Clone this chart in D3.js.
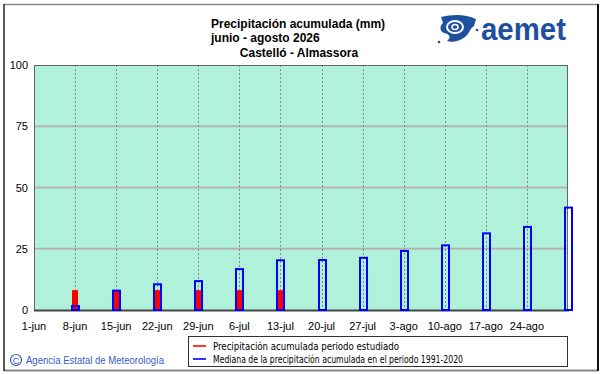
<!DOCTYPE html>
<html>
<head>
<meta charset="utf-8">
<script src="https://cdn.jsdelivr.net/npm/d3@7"></script>
<style>
  body { margin: 0; background: #fff; }
  svg { display: block; font-family: "Liberation Sans", Arial, sans-serif; }
</style>
</head>
<body>
<div id="chart"></div>
<script>
// Data
const tickDates = ["2026-06-01","2026-06-08","2026-06-15","2026-06-22","2026-06-29","2026-07-06",
  "2026-07-13","2026-07-20","2026-07-27","2026-08-03","2026-08-10","2026-08-17","2026-08-24"];
const tickLabels = ["1-jun","8-jun","15-jun","22-jun","29-jun","6-jul","13-jul","20-jul","27-jul",
  "3-ago","10-ago","17-ago","24-ago"];
const barDates = ["2026-06-08","2026-06-15","2026-06-22","2026-06-29","2026-07-06","2026-07-13",
  "2026-07-20","2026-07-27","2026-08-03","2026-08-10","2026-08-17","2026-08-24","2026-08-31"];
const median = [1.6, 7.9, 10.5, 11.8, 16.7, 20.3, 20.4, 21.3, 24.1, 26.4, 31.3, 33.9, 41.8];
const observed = [8.1, 8.1, 8.1, 8.1, 8.1, 8.1, null, null, null, null, null, null, null];
const yTicks = [0, 25, 50, 75, 100];
const legendItems = [
  { label: "Precipitación acumulada periodo estudiado", color: "#ff0000" },
  { label: "Mediana de la precipitación acumulada en el periodo 1991-2020", color: "#0000ff" }
];

const W = 601, H = 374;
const plot = { left: 34, right: 568, top: 65, bottom: 310 };
const parse = d3.utcParse("%Y-%m-%d");

const svg = d3.select("#chart").append("svg")
  .attr("width", W).attr("height", H);

// stippled mint background
const defs = svg.append("defs");
const pat = defs.append("pattern")
  .attr("id", "stip").attr("width", 4).attr("height", 4)
  .attr("patternUnits", "userSpaceOnUse");
const stipCols = ["#a8f0da","#c6f9e4","#9aeace","#b8f4da",
                  "#c2f7e4","#9eecd0","#b2f2dc","#a6eed6",
                  "#a0ecd8","#bcf6de","#aaf0d2","#c8fae8",
                  "#b4f3dc","#a6eed4","#c4f8e2","#9ceace"];
stipCols.forEach((c, i) => {
  pat.append("rect").attr("x", i % 4).attr("y", Math.floor(i / 4))
    .attr("width", 1).attr("height", 1).attr("fill", c);
});

// outer frame
svg.append("line").attr("x1", 4).attr("x2", 598).attr("y1", 4.5).attr("y2", 4.5)
  .attr("stroke", "#888").attr("stroke-width", 1.5);
svg.append("line").attr("x1", 4).attr("x2", 598).attr("y1", 370.5).attr("y2", 370.5)
  .attr("stroke", "#888").attr("stroke-width", 2);
svg.append("line").attr("x1", 4).attr("x2", 4).attr("y1", 4).attr("y2", 371)
  .attr("stroke", "#222").attr("stroke-width", 1.5);
svg.append("line").attr("x1", 598).attr("x2", 598).attr("y1", 4).attr("y2", 371)
  .attr("stroke", "#111").attr("stroke-width", 2);

// Scales
const x = d3.scaleUtc()
  .domain([parse("2026-06-01"), parse("2026-08-31")])
  .range([plot.left, plot.right]);
const y = d3.scaleLinear().domain([0, 100]).range([plot.bottom, plot.top]);

svg.append("rect")
  .attr("x", plot.left).attr("y", plot.top)
  .attr("width", plot.right - plot.left).attr("height", plot.bottom - plot.top)
  .attr("fill", "url(#stip)");

// grid
svg.append("g").selectAll("line")
  .data(yTicks.filter(d => d > 0 && d < 100))
  .join("line")
  .attr("x1", plot.left).attr("x2", plot.right)
  .attr("y1", d => y(d)).attr("y2", d => y(d))
  .attr("stroke", "#b4b4b4").attr("stroke-width", 2);

svg.append("g").selectAll("line")
  .data(tickDates.slice(1))
  .join("line")
  .attr("x1", d => Math.round(x(parse(d))) + 0.5).attr("x2", d => Math.round(x(parse(d))) + 0.5)
  .attr("y1", plot.top).attr("y2", plot.bottom)
  .attr("stroke", "#888").attr("stroke-dasharray", "2,2");

// plot border
svg.append("rect")
  .attr("x", plot.left + 0.5).attr("y", plot.top + 0.5)
  .attr("width", plot.right - plot.left - 1).attr("height", plot.bottom - plot.top)
  .attr("fill", "none").attr("stroke", "#666");
svg.append("line")
  .attr("x1", plot.left).attr("x2", plot.right + 1)
  .attr("y1", plot.bottom + 0.5).attr("y2", plot.bottom + 0.5)
  .attr("stroke", "#444").attr("stroke-width", 2);

// bars
const bars = barDates.map((d, i) => ({ date: parse(d), med: median[i], obs: observed[i] }));
svg.append("g").selectAll("rect")
  .data(bars.filter(d => d.obs != null))
  .join("rect")
  .attr("x", d => Math.round(x(d.date)) - 3)
  .attr("width", 6)
  .attr("y", d => y(d.obs))
  .attr("height", d => y(0) - y(d.obs))
  .attr("fill", "#ff0000");

svg.append("g").selectAll("rect")
  .data(bars)
  .join("rect")
  .attr("x", d => Math.round(x(d.date)) - 3)
  .attr("width", 7)
  .attr("y", d => y(d.med))
  .attr("height", d => y(0) - y(d.med))
  .attr("fill", "none")
  .attr("stroke", "#0000ff").attr("stroke-width", 2);

// axes labels
svg.append("g").selectAll("text")
  .data(yTicks)
  .join("text")
  .attr("x", 28).attr("y", d => y(d) + 4)
  .attr("text-anchor", "end")
  .attr("font-size", 11).attr("fill", "#000")
  .text(d => d);

svg.append("g").selectAll("text")
  .data(tickDates)
  .join("text")
  .attr("x", d => x(parse(d)))
  .attr("y", 330)
  .attr("text-anchor", "middle")
  .attr("font-size", 11).attr("fill", "#000")
  .text((d, i) => tickLabels[i]);

// titles
const title = svg.append("g").attr("font-weight", "bold").attr("font-size", 12);
title.append("text").attr("x", 211).attr("y", 28).text("Precipitación acumulada (mm)");
title.append("text").attr("x", 211).attr("y", 42).text("junio - agosto 2026");
title.append("text").attr("x", 299).attr("y", 57).attr("text-anchor", "middle")
  .text("Castelló - Almassora");

// logo
const logo = svg.append("g").attr("fill", "#1f4f9f");
logo.append("path")
  .attr("d", "M441,17 C452,14 466,14 476,19 L474,26 C470,28 470,33 465,37 C460,41 452,43 447,41 C452,37 449,34 444,33 C439,31 440,25 443,23 Z");
logo.append("ellipse").attr("cx", 455).attr("cy", 27).attr("rx", 8).attr("ry", 6)
  .attr("fill", "none").attr("stroke", "#fff").attr("stroke-width", 2);
logo.append("ellipse").attr("cx", 455).attr("cy", 27).attr("rx", 3).attr("ry", 2.5)
  .attr("fill", "none").attr("stroke", "#fff").attr("stroke-width", 1.5);
logo.append("circle").attr("cx", 439).attr("cy", 42).attr("r", 1.3);
logo.append("circle").attr("cx", 477).attr("cy", 30).attr("r", 1.3);
logo.append("text")
  .attr("x", 481).attr("y", 40)
  .attr("font-size", 31).attr("font-weight", "bold")
  .attr("textLength", 85).attr("lengthAdjust", "spacingAndGlyphs")
  .text("aemet");

// legend
const lg = svg.append("g");
lg.append("rect").attr("x", 188.5).attr("y", 336.5).attr("width", 379).attr("height", 30)
  .attr("fill", "#fff").attr("stroke", "#333");
legendItems.forEach((d, i) => {
  const yy = 346 + i * 13;
  lg.append("line").attr("x1", 193).attr("x2", 206).attr("y1", yy).attr("y2", yy)
    .attr("stroke", d.color).attr("stroke-width", 1.6);
  lg.append("text").attr("x", 213).attr("y", yy + 4)
    .attr("font-size", 10.5).attr("font-family", "'DejaVu Sans Condensed', 'Liberation Sans', sans-serif")
    .attr("textLength", i === 0 ? 186 : 250).attr("lengthAdjust", "spacingAndGlyphs")
    .text(d.label);
});

// footer
const ft = svg.append("g").attr("fill", "#3a5cc4");
ft.append("circle").attr("cx", 16).attr("cy", 360).attr("r", 5.5)
  .attr("fill", "none").attr("stroke", "#3a5cc4").attr("stroke-width", 1.2);
ft.append("text").attr("x", 16).attr("y", 363.5).attr("text-anchor", "middle")
  .attr("font-size", 9).text("C");
ft.append("text").attr("x", 26).attr("y", 364)
  .attr("font-size", 10).attr("textLength", 138).attr("lengthAdjust", "spacingAndGlyphs")
  .text("Agencia Estatal de Meteorología");
</script>
</body>
</html>
